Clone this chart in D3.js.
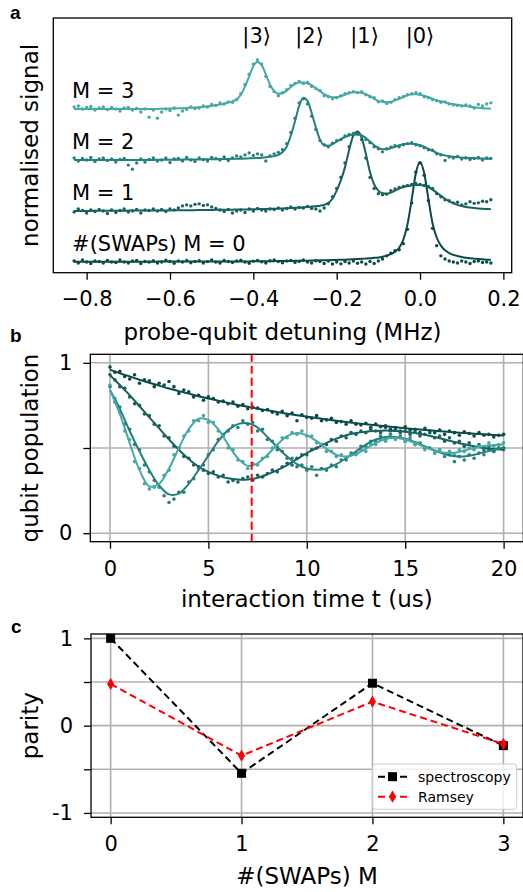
<!DOCTYPE html>
<html>
<head>
<meta charset="utf-8">
<script src="https://cdn.jsdelivr.net/npm/d3@7"></script>
<style>
body { margin: 0; background: #fff; }
svg { display: block; font-family: "DejaVu Sans", sans-serif; }
</style>
</head>
<body>
<div id="fig"></div>
<script>
// ---- panel a: spectroscopy traces, detuning grid -0.83 .. 0.17 MHz in 0.01 steps
const detuningStart = -0.83, detuningStep = 0.01;
const detuningTicks = [-0.8, -0.6, -0.4, -0.2, 0.0, 0.2];
const traceLabels = ['#(SWAPs) M = 0', 'M = 1', 'M = 2', 'M = 3'];
const stateLabels = ['|3\u27E9', '|2\u27E9', '|1\u27E9', '|0\u27E9'];
const stateLabelX = [-0.392, -0.265, -0.133, 0.0];

const fitM0 = [
  .003,.003,.003,.003,.003,.003,.003,.003,.003,.003,
  .003,.003,.003,.003,.003,.003,.003,.003,.003,.003,
  .004,.004,.004,.004,.004,.004,.004,.004,.004,.004,
  .004,.004,.004,.005,.005,.005,.005,.005,.005,.006,
  .006,.006,.006,.007,.007,.007,.008,.008,.008,.009,
  .009,.010,.010,.011,.011,.012,.013,.014,.015,.016,
  .017,.018,.019,.020,.022,.023,.025,.027,.029,.031,
  .034,.037,.041,.045,.052,.062,.077,.10,.14,.22,
  .37,.61,.87,.98,.87,.62,.38,.24,.16,.115,
  .088,.07,.058,.049,.042,.037,.033,.029,.026,.023,
  .021];
const dotsM0 = [
  .01,-.01,.02,0,-.015,.01,.005,-.01,.015,0,
  -.005,.02,0,-.01,.01,.015,-.015,.005,0,.012,
  -.01,0,.018,.005,-.012,.01,0,.015,-.008,.006,
  .012,-.01,.004,.02,0,-.01,.014,.005,-.006,.01,
  .018,0,-.012,.008,.015,.002,-.01,.012,.02,.004,
  -.008,.01,.016,-.004,.006,.02,0,-.01,.012,.005,
  -.015,.01,-.02,0,-.018,.005,-.01,.01,-.012,0,
  -.02,.005,-.015,.01,.03,.06,.085,.11,.12,.18,
  .32,.58,.88,.97,.85,.6,.33,.16,.06,.03,
  .01,0,-.01,.01,0,-.015,.005,.01,-.005,0,
  -.01];

const fitM1 = [
  0,0,.001,.001,.001,.002,.002,.002,.002,.003,
  .003,.003,.003,.004,.004,.004,.004,.005,.005,.005,
  .005,.006,.006,.006,.007,.007,.007,.008,.008,.008,
  .009,.009,.01,.01,.011,.011,.012,.012,.013,.014,
  .014,.015,.016,.017,.018,.019,.02,.021,.022,.024,
  .025,.027,.029,.031,.033,.036,.039,.043,.047,.052,
  .06,.08,.12,.2,.3,.43,.6,.74,.78,.72,
  .56,.38,.26,.2,.175,.17,.18,.2,.22,.235,
  .245,.25,.255,.255,.25,.235,.21,.18,.15,.12,
  .095,.075,.06,.048,.04,.034,.029,.025,.022,.02,
  .018];
const dotsM1 = [
  -.01,.02,.005,-.02,.01,-.005,.015,0,-.025,.01,
  -.015,.005,.02,-.01,0,.015,-.02,.01,.005,.02,
  0,.015,-.005,.02,.01,.03,.05,.06,.05,.065,
  .07,.055,.06,.04,.025,.01,-.005,.015,-.02,0,
  .01,-.015,.02,0,.025,.01,0,.02,.015,.03,
  .01,.025,.04,.02,.035,.03,.045,.025,.02,0,
  .03,.07,.14,.22,.33,.47,.63,.75,.77,.7,
  .52,.33,.22,.17,.16,.165,.2,.215,.23,.24,
  .25,.26,.27,.26,.25,.24,.22,.17,.14,.11,
  .1,.08,.085,.06,.07,.09,.075,.08,.095,.09,
  .11];

const fitM2 = [
  0,0,0,0,0,0,0,0,0,0,
  0,0,0,0,0,.001,.001,.001,.001,.001,
  .002,.002,.002,.003,.003,.003,.004,.004,.005,.005,
  .006,.006,.007,.007,.008,.009,.009,.01,.011,.012,
  .013,.014,.016,.018,.02,.023,.027,.032,.038,.05,
  .075,.13,.24,.38,.53,.61,.58,.46,.32,.2,
  .145,.14,.155,.18,.205,.225,.24,.25,.25,.24,
  .215,.18,.145,.12,.105,.105,.115,.13,.145,.155,
  .16,.16,.155,.145,.13,.11,.09,.07,.055,.045,
  .037,.031,.027,.024,.021,.019,.017,.015,.014,.013,
  .012];
const dotsM2 = [
  .02,-.01,.015,0,.025,-.015,.01,.02,-.005,.01,
  -.02,.005,.015,-.05,-.09,-.03,.01,-.02,.005,.02,
  -.01,0,.02,-.025,.01,.015,-.01,.025,0,-.015,
  .02,.005,-.01,.025,.015,0,.03,-.005,.02,.04,
  .03,.05,.07,.045,.06,.05,-.01,.04,.06,.075,
  .1,.16,.27,.41,.56,.6,.55,.43,.3,.19,
  .15,.13,.165,.19,.2,.235,.25,.26,.255,.23,
  .2,.17,.13,.11,.08,.11,.125,.14,.13,.15,
  .16,.17,.15,.14,.12,.1,.095,.06,.05,-.005,
  .03,.02,.035,.01,.02,.005,.015,.025,0,.02,
  .015];

const fitM3 = [
  0,0,0,0,0,0,0,0,0,0,
  0,0,0,0,0,0,0,0,0,0,
  .001,.002,.003,.004,.005,.006,.008,.01,.012,.014,
  .017,.021,.025,.03,.036,.043,.052,.063,.075,.095,
  .14,.22,.32,.42,.46,.43,.34,.24,.175,.15,
  .155,.18,.215,.245,.26,.26,.25,.235,.205,.175,
  .145,.125,.115,.115,.125,.14,.155,.165,.165,.16,
  .145,.125,.1,.08,.07,.065,.07,.085,.1,.12,
  .135,.145,.145,.14,.13,.115,.1,.085,.075,.065,
  .055,.048,.042,.035,.028,.022,.017,.012,.008,.005,
  .003];
const dotsM3 = [
  .02,.03,0,.015,.025,-.01,.01,.02,-.005,.015,
  0,-.02,.01,.015,-.01,.005,-.03,0,-.08,-.01,
  -.09,-.03,0,-.015,.01,-.06,-.02,-.005,.02,.005,
  .01,.03,.02,.045,.035,.06,.05,.07,.065,.09,
  .15,.24,.34,.44,.48,.44,.32,.22,.17,.13,
  .16,.19,.23,.25,.27,.25,.26,.22,.2,.18,
  .13,.12,.1,.11,.13,.15,.16,.17,.16,.17,
  .14,.12,.11,.07,.08,.055,.065,.09,.11,.12,
  .14,.15,.16,.15,.12,.11,.09,.08,.065,.07,
  .05,.04,.035,.03,.04,.03,.01,.045,.03,.05,
  .06];

const traceOffset = 0.5;   // vertical shift between stacked traces

// ---- panel b: qubit population vs interaction time
const timeTicks = [0, 5, 10, 15, 20];
const popTicks = [0, 0.5, 1];
const popTickLabels = ['0', '', '1'];
const fitTimeStep = 0.5, dotTimeStep = 0.25;
const markerTime = 7.2;

const popFit0 = [.96,.939,.92,.901,.883,.866,.849,.834,.819,.804,.791,.778,.765,.753,.742,.731,.721,.711,.701,.692,
  .684,.676,.668,.66,.653,.646,.64,.633,.627,.622,.616,.611,.606,.601,.597,.592,.588,.584,.58,.577,.573];
const popFit1 = [.927,.87,.81,.745,.68,.615,.55,.49,.435,.39,.36,.338,.322,.315,.315,.325,.345,.37,.4,.435,
  .47,.5,.53,.555,.575,.588,.596,.6,.602,.6,.596,.588,.578,.565,.55,.536,.522,.51,.5,.494,.49];
const popFit2 = [.84,.73,.6,.48,.37,.28,.228,.232,.29,.37,.455,.54,.605,.64,.646,.62,.565,.505,.45,.405,
  .38,.372,.38,.405,.44,.48,.52,.55,.565,.565,.555,.535,.51,.485,.465,.452,.45,.46,.475,.49,.5];
const popFit3 = [.84,.7,.53,.37,.275,.29,.38,.5,.61,.672,.665,.61,.52,.44,.395,.41,.46,.52,.57,.588,
  .575,.54,.495,.46,.45,.465,.495,.53,.553,.56,.55,.53,.505,.485,.472,.472,.485,.5,.512,.518,.52];

const popDots0 = [
  .975,.945,.95,.92,.905,.93,.88,.9,.895,.86,
  .88,.87,.89,.86,.82,.84,.83,.8,.81,.78,
  .8,.79,.77,.775,.76,.77,.745,.755,.73,.74,
  .735,.72,.725,.71,.7,.715,.69,.705,.66,.695,
  .68,.675,.69,.66,.665,.675,.65,.655,.64,.66,
  .64,.635,.645,.62,.64,.625,.63,.61,.62,.6,
  .625,.605,.61,.59,.615,.6,.59,.605,.58,.6,
  .59,.575,.595,.585,.57,.59,.575,.58,.565,.575,
  .58];
const popDots1 = [
  .93,.9,.86,.85,.8,.76,.75,.7,.69,.64,
  .63,.57,.56,.51,.5,.45,.44,.4,.39,.37,
  .35,.36,.33,.34,.3,.31,.3,.32,.33,.31,
  .34,.33,.35,.37,.36,.39,.41,.4,.44,.46,
  .46,.49,.5,.52,.52,.55,.54,.57,.56,.59,
  .58,.6,.59,.61,.6,.59,.62,.6,.61,.59,
  .6,.58,.6,.57,.58,.59,.56,.57,.54,.56,
  .53,.54,.51,.53,.5,.52,.49,.51,.48,.5,
  .5];
const popDots2 = [
  .86,.77,.74,.64,.61,.52,.49,.4,.36,.31,
  .27,.22,.18,.2,.24,.24,.3,.32,.38,.4,
  .46,.49,.55,.57,.6,.63,.62,.66,.64,.65,
  .6,.61,.55,.54,.49,.48,.44,.44,.39,.4,
  .37,.39,.34,.38,.37,.4,.39,.43,.43,.47,
  .47,.51,.51,.54,.54,.57,.55,.58,.56,.57,
  .54,.56,.52,.53,.5,.5,.47,.49,.45,.46,
  .42,.45,.43,.46,.44,.47,.46,.49,.48,.5,
  .49];
const popDots3 = [
  .87,.79,.71,.6,.55,.42,.38,.29,.26,.27,
  .27,.34,.37,.46,.5,.57,.6,.66,.66,.69,
  .65,.65,.6,.58,.5,.49,.43,.42,.38,.41,
  .4,.44,.45,.5,.51,.56,.56,.59,.58,.6,
  .57,.57,.53,.52,.48,.48,.45,.46,.44,.46,
  .46,.49,.48,.52,.52,.55,.54,.57,.55,.56,
  .54,.55,.52,.53,.49,.5,.47,.49,.46,.48,
  .46,.49,.48,.5,.49,.51,.5,.53,.51,.52,
  .53];

// ---- panel c: parity vs number of SWAPs
const swaps = [0, 1, 2, 3];
const spectroscopyParity = [1.0, -0.546, 0.486, -0.229];
const ramseyParity = [0.478, -0.344, 0.275, -0.21];
const parityTicks = [-1, -0.5, 0, 0.5, 1];
const parityTickLabels = ['-1', '', '0', '', '1'];

const teal = ['#0b4a48', '#17625f', '#26807d', '#45a9a6'];
const gridColor = '#b0b0b0';

const width = 523, height = 892;
const svg = d3.select('#fig')
              .append('svg')
              .attr('width', width)
              .attr('height', height);

function styleAxis(g) {
  g.select('.domain').remove();
  g.selectAll('.tick line').attr('stroke', '#000').attr('stroke-width', 1.3);
  g.selectAll('.tick text').attr('fill', '#000')
    .style('font-size', '21px').style('font-family', '"DejaVu Sans", sans-serif');
}

function frame(x0, x1, y0, y1) {
  svg.append('rect')
     .attr('x', x0).attr('y', y1)
     .attr('width', x1 - x0).attr('height', y0 - y1)
     .attr('fill', 'none')
     .attr('stroke', '#000')
     .attr('stroke-width', 1.3);
}

function panelLetter(t, x, y) {
  svg.append('text')
     .attr('x', x).attr('y', y)
     .style('font-family', '"Liberation Sans", Arial, sans-serif')
     .style('font-weight', 'bold')
     .style('font-size', '19px')
     .text(t);
}

function axisLabel(t, x, y, rotate) {
  let el = svg.append('text')
     .style('font-size', '23px')
     .style('text-anchor', 'middle')
     .text(t);
  if (rotate) el.attr('transform', 'translate(' + x + ',' + y + ') rotate(-90)');
  else el.attr('x', x).attr('y', y);
}

// ================= panel a =================
let ax = d3.scaleLinear().domain([-0.88, 0.22]).range([53.3, 511.7]);
let ay = d3.scaleLinear().domain([-0.105, 2.392]).range([272.7, 18]);

let traces = [
  {fit: fitM0, dots: dotsM0},
  {fit: fitM1, dots: dotsM1},
  {fit: fitM2, dots: dotsM2},
  {fit: fitM3, dots: dotsM3}
];

traces.forEach((tr, m) => {
  let off = m * traceOffset;
  let detX = i => ax(detuningStart + i * detuningStep);

  svg.append('g').selectAll('circle')
     .data(tr.dots)
     .enter()
     .append('circle')
     .attr('cx', (d, i) => detX(i))
     .attr('cy', d => ay(off + d))
     .attr('r', 1.7)
     .style('fill', teal[m]);

  let line = d3.line()
               .x((d, i) => detX(i))
               .y(d => ay(off + d))
               .curve(d3.curveMonotoneX);

  svg.append('path')
     .datum(tr.fit)
     .attr('d', line)
     .style('fill', 'none')
     .style('stroke', teal[m])
     .style('stroke-width', 2);

  svg.append('text')
     .attr('x', ax(-0.835))
     .attr('y', ay(off + 0.11))
     .style('font-size', '21px')
     .text(traceLabels[m]);
});

svg.selectAll('.stateLabel')
   .data(stateLabels)
   .enter()
   .append('text')
   .attr('class', 'stateLabel')
   .attr('x', (d, i) => ax(stateLabelX[i]))
   .attr('y', ay(2.15))
   .style('font-size', '21px')
   .style('text-anchor', 'middle')
   .text(d => d);

frame(53.3, 511.7, 272.7, 18);

svg.append('g')
   .attr('transform', 'translate(0,272.7)')
   .call(d3.axisBottom(ax).tickValues(detuningTicks).tickFormat(d3.format('.1f'))
           .tickSize(7).tickPadding(11))
   .call(styleAxis);

axisLabel('probe-qubit detuning (MHz)', 282.5, 340);
axisLabel('normalised signal', 38, 145.4, true);
panelLetter('a', 10, 19);

// ================= panel b =================
let bx = d3.scaleLinear().domain([-1, 21]).range([90.3, 523.3]);
let by = d3.scaleLinear().domain([-0.05, 1.05]).range([541.7, 354.3]);

let bGrid = svg.append('g');
bGrid.selectAll('.vx').data(timeTicks).enter().append('line')
     .attr('x1', d => bx(d)).attr('x2', d => bx(d))
     .attr('y1', by(-0.05)).attr('y2', by(1.05))
     .style('stroke', gridColor).style('stroke-width', 1.6);
bGrid.selectAll('.hy').data(popTicks).enter().append('line')
     .attr('x1', bx(-1)).attr('x2', bx(21))
     .attr('y1', d => by(d)).attr('y2', d => by(d))
     .style('stroke', gridColor).style('stroke-width', 1.6);

let popSeries = [
  {fit: popFit0, dots: popDots0},
  {fit: popFit1, dots: popDots1},
  {fit: popFit2, dots: popDots2},
  {fit: popFit3, dots: popDots3}
];

popSeries.forEach((s, k) => {
  svg.append('g').selectAll('circle')
     .data(s.dots)
     .enter()
     .append('circle')
     .attr('cx', (d, i) => bx(i * dotTimeStep))
     .attr('cy', d => by(d))
     .attr('r', 1.8)
     .style('fill', teal[k]);
});

popSeries.forEach((s, k) => {
  let line = d3.line()
               .x((d, i) => bx(i * fitTimeStep))
               .y(d => by(d))
               .curve(d3.curveCatmullRom.alpha(0.5));
  svg.append('path')
     .datum(s.fit)
     .attr('d', line)
     .style('fill', 'none')
     .style('stroke', teal[k])
     .style('stroke-width', 2);
});

svg.append('line')
   .attr('x1', bx(markerTime)).attr('x2', bx(markerTime))
   .attr('y1', by(-0.05)).attr('y2', by(1.05))
   .style('stroke', 'red')
   .style('stroke-width', 2)
   .attr('stroke-dasharray', '8 4');

frame(90.3, 523.3, 541.7, 354.3);

svg.append('g')
   .attr('transform', 'translate(0,541.7)')
   .call(d3.axisBottom(bx).tickValues(timeTicks).tickFormat(d3.format('d'))
           .tickSize(7).tickPadding(12))
   .call(styleAxis);

svg.append('g')
   .attr('transform', 'translate(90.3,0)')
   .call(d3.axisLeft(by).tickValues(popTicks).tickFormat((d, i) => popTickLabels[i])
           .tickSize(7).tickPadding(11))
   .call(styleAxis);

axisLabel('interaction time t (us)', 306.8, 607);
axisLabel('qubit population', 38, 448, true);
panelLetter('b', 10, 342);

// ================= panel c =================
let cx = d3.scaleLinear().domain([-0.15, 3.15]).range([91, 523]);
let cy = d3.scaleLinear().domain([-1.05, 1.05]).range([817.3, 634]);

let cGrid = svg.append('g');
cGrid.selectAll('.vx').data(swaps).enter().append('line')
     .attr('x1', d => cx(d)).attr('x2', d => cx(d))
     .attr('y1', cy(-1.05)).attr('y2', cy(1.05))
     .style('stroke', gridColor).style('stroke-width', 1.6);
cGrid.selectAll('.hy').data(parityTicks).enter().append('line')
     .attr('x1', cx(-0.15)).attr('x2', cx(3.15))
     .attr('y1', d => cy(d)).attr('y2', d => cy(d))
     .style('stroke', gridColor).style('stroke-width', 1.6);

let parityLine = d3.line()
                   .x((d, i) => cx(swaps[i]))
                   .y(d => cy(d));

let paritySeries = [
  {name: 'spectroscopy', values: spectroscopyParity, color: '#000', symbol: d3.symbolSquare, size: 81},
  {name: 'Ramsey', values: ramseyParity, color: 'red', symbol: d3.symbolDiamond, size: 44}
];

paritySeries.forEach(s => {
  svg.append('path')
     .datum(s.values)
     .attr('d', parityLine)
     .style('fill', 'none')
     .style('stroke', s.color)
     .style('stroke-width', 2)
     .attr('stroke-dasharray', '7 4');

  svg.append('g').selectAll('path')
     .data(s.values)
     .enter()
     .append('path')
     .attr('transform', (d, i) => 'translate(' + cx(swaps[i]) + ',' + cy(d) + ')')
     .attr('d', d3.symbol().type(s.symbol).size(s.size))
     .style('fill', s.color);
});

frame(91, 523, 817.3, 634);

svg.append('g')
   .attr('transform', 'translate(0,817.3)')
   .call(d3.axisBottom(cx).tickValues(swaps).tickFormat(d3.format('d'))
           .tickSize(7).tickPadding(12))
   .call(styleAxis);

svg.append('g')
   .attr('transform', 'translate(91,0)')
   .call(d3.axisLeft(cy).tickValues(parityTicks).tickFormat((d, i) => parityTickLabels[i])
           .tickSize(7).tickPadding(11))
   .call(styleAxis);

// legend
let legend = svg.append('g').attr('transform', 'translate(372.7,764)');
legend.append('rect')
      .attr('width', 144).attr('height', 45.3)
      .attr('rx', 3)
      .style('fill', '#fff').style('fill-opacity', 0.8)
      .style('stroke', '#cccccc').style('stroke-width', 1);

paritySeries.forEach((s, i) => {
  let yy = 12.7 + i * 20;
  legend.append('line')
        .attr('x1', 5.3).attr('x2', 34.3)
        .attr('y1', yy).attr('y2', yy)
        .style('stroke', s.color).style('stroke-width', 2)
        .attr('stroke-dasharray', '7 4');
  legend.append('path')
        .attr('transform', 'translate(19.8,' + yy + ')')
        .attr('d', d3.symbol().type(s.symbol).size(s.size))
        .style('fill', s.color);
  legend.append('text')
        .attr('x', 45.3).attr('y', yy + 5)
        .style('font-size', '14px')
        .text(s.name);
});

axisLabel('#(SWAPs) M', 307, 884);
axisLabel('parity', 38, 725.7, true);
panelLetter('c', 11, 633);
</script>
</body>
</html>
